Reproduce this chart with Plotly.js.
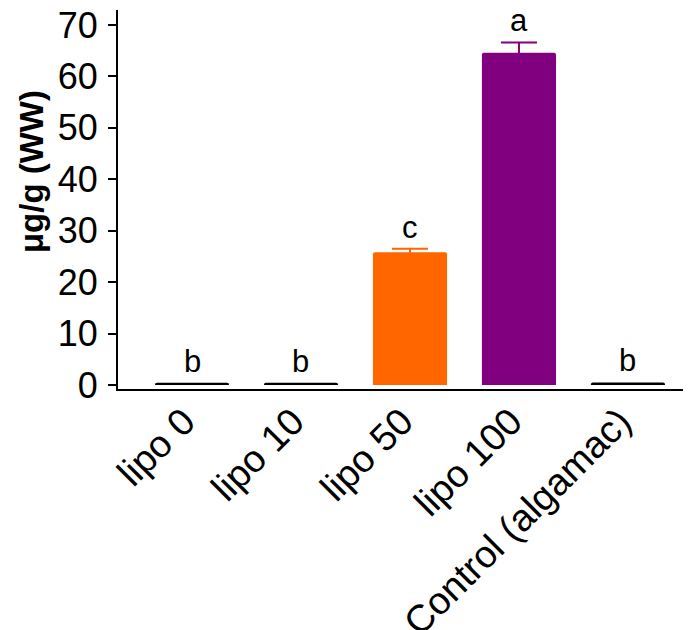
<!DOCTYPE html>
<html>
<head>
<meta charset="utf-8">
<script src="https://cdn.plot.ly/plotly-3.0.1.min.js"></script>
<style>html,body{margin:0;padding:0;background:#fff;}#chart{width:692px;height:630px;}</style>
</head>
<body>
<div id="chart"></div>
<script>
// Data
var categories = ["lipo 0", "lipo 10", "lipo 50", "lipo 100", "Control (algamac)"];
var values = [0.45, 0.45, 25.8, 64.6, 0.5];
var errors = [0, 0, 0.7, 2.0, 0];
var letters = ["b", "b", "c", "a", "b"];
var barColors = ["#000000", "#000000", "#FF6600", "#800080", "#000000"];
var yTickVals = [0, 10, 20, 30, 40, 50, 60, 70];

var traces = categories.map(function (c, i) {
  return {
    type: "bar",
    x: [c],
    y: [values[i]],
    marker: { color: barColors[i], cornerradius: 2 },
    error_y: {
      type: "data",
      array: [errors[i]],
      visible: errors[i] > 0,
      color: barColors[i],
      thickness: 2,
      width: 18
    },
    showlegend: false,
    hoverinfo: "x+y"
  };
});

var annotations = categories.map(function (c, i) {
  return {
    x: c, y: values[i] + errors[i], xref: "x", yref: "y",
    text: letters[i], showarrow: false,
    xanchor: "center", yanchor: "bottom", yshift: 2,
    font: { family: "Liberation Sans, Arial, sans-serif", size: 31, color: "#000" }
  };
});
annotations.push({
  xref: "paper", yref: "paper", x: -0.152, y: 0.5726,
  text: "<b>μg/g (WW)</b>", showarrow: false, textangle: -90,
  xanchor: "center", yanchor: "middle",
  font: { family: "Liberation Sans, Arial, sans-serif", size: 33, color: "#000" }
});

var layout = {
  width: 692, height: 630,
  margin: { l: 118, r: 9, t: 10, b: 241, pad: 0 },
  paper_bgcolor: "#fff", plot_bgcolor: "#fff",
  barmode: "overlay",
  bargap: 0.32,
  font: { family: "Liberation Sans, Arial, sans-serif", color: "#000" },
  xaxis: {
    type: "category",
    categoryorder: "array", categoryarray: categories,
    range: [-0.679, 4.505],
    showline: true, linecolor: "#000", linewidth: 2,
    ticks: "", showgrid: false, zeroline: false,
    tickangle: -45,
    ticklabelstandoff: -7,
    ticklabelshift: -8,
    tickfont: { size: 38, color: "#000" },
    automargin: false
  },
  yaxis: {
    range: [-0.78, 72.9],
    tickvals: yTickVals,
    showline: true, linecolor: "#000", linewidth: 2,
    ticks: "outside", ticklen: 8, tickwidth: 2, tickcolor: "#000",
    ticklabelstandoff: 3,
    showgrid: false, zeroline: false,
    tickfont: { size: 36, color: "#000" },
    automargin: false
  },
  annotations: annotations
};

Plotly.newPlot("chart", traces, layout, { displayModeBar: false, staticPlot: true });
</script>
</body>
</html>
